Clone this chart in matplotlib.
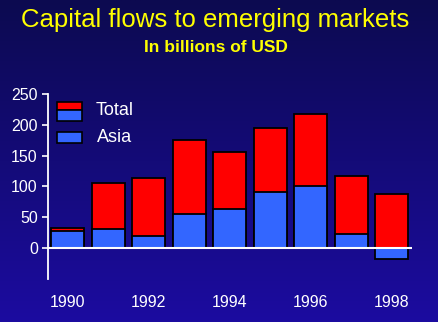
import numpy as np
import matplotlib
matplotlib.use("Agg")
import matplotlib.pyplot as plt
from matplotlib.patches import Rectangle

years = [1990, 1991, 1992, 1993, 1994, 1995, 1996, 1997, 1998]
total = [33, 106, 113, 176, 156, 195, 217, 117, 88]
asia = [27, 31, 20, 55, 64, 91, 101, 22, -18]
xtick_labels = ["1990", "1992", "1994", "1996", "1998"]
ytick_values = [0, 50, 100, 150, 200, 250]

plt.rcParams['font.family'] = ['Liberation Sans', 'DejaVu Sans']

W, H = 438, 322
fig = plt.figure(figsize=(W / 100, H / 100), dpi=100)

# background gradient
bg = fig.add_axes([0, 0, 1, 1])
top = np.array([12, 10, 80]) / 255
bot = np.array([28, 12, 160]) / 255
t = np.linspace(0, 1, 256)[:, None]
grad = top[None, None, :] * (1 - t[..., None]) + bot[None, None, :] * t[..., None]
grad = np.repeat(grad, 2, axis=1)
bg.imshow(grad, aspect='auto', extent=[0, 1, 0, 1], origin='upper')
bg.set_axis_off()

ax = fig.add_axes([47.5 / W, 43.2 / H, (412 - 47.5) / W, (278.8 - 94) / H])
ax.set_facecolor('none')

RED = '#ff0000'
BLUE = '#3366ff'
ax.bar(years, total, width=0.82, color=RED, edgecolor='black', linewidth=1.3, zorder=2)
ax.bar(years, asia, width=0.82, color=BLUE, edgecolor='black', linewidth=1.3, zorder=3)
ax.axhline(0, color='white', linewidth=1.5, zorder=4)

ax.set_xlim(1989.5, 1998.5)
ax.set_ylim(-50, 250)
ax.set_yticks(ytick_values)
ax.set_yticklabels([str(v) for v in ytick_values])
ax.set_xticks(years[::2])
ax.set_xticklabels(xtick_labels)

for s in ['top', 'right', 'bottom']:
    ax.spines[s].set_visible(False)
ax.spines['left'].set_color('white')
ax.spines['left'].set_linewidth(1.3)
ax.tick_params(axis='y', colors='white', labelsize=11.5, length=4.5, width=1.2, pad=2.5)
ax.tick_params(axis='x', colors='white', labelsize=11.5, length=0, pad=12)

# legend
ax.add_patch(Rectangle((0.025, 0.913), 0.069, 0.045, transform=ax.transAxes,
                       facecolor=RED, edgecolor='black', linewidth=1.2, zorder=5))
ax.add_patch(Rectangle((0.025, 0.855), 0.069, 0.058, transform=ax.transAxes,
                       facecolor=BLUE, edgecolor='black', linewidth=1.2, zorder=5))
ax.add_patch(Rectangle((0.025, 0.735), 0.069, 0.059, transform=ax.transAxes,
                       facecolor=BLUE, edgecolor='black', linewidth=1.2, zorder=5))
ax.text(0.132, 0.91, "Total", transform=ax.transAxes, color='white', fontsize=13,
        va='center', ha='left')
ax.text(0.136, 0.765, "Asia", transform=ax.transAxes, color='white', fontsize=13,
        va='center', ha='left')

fig.text(0.492, 1 - 20 / H, "Capital flows to emerging markets", color='#ffff00',
         fontsize=18.5, ha='center', va='center')
fig.text(0.492, 1 - 47 / H, "In billions of USD", color='#ffff00',
         fontsize=12.5, fontweight='bold', ha='center', va='center')

fig.savefig("out.png", dpi=100)
